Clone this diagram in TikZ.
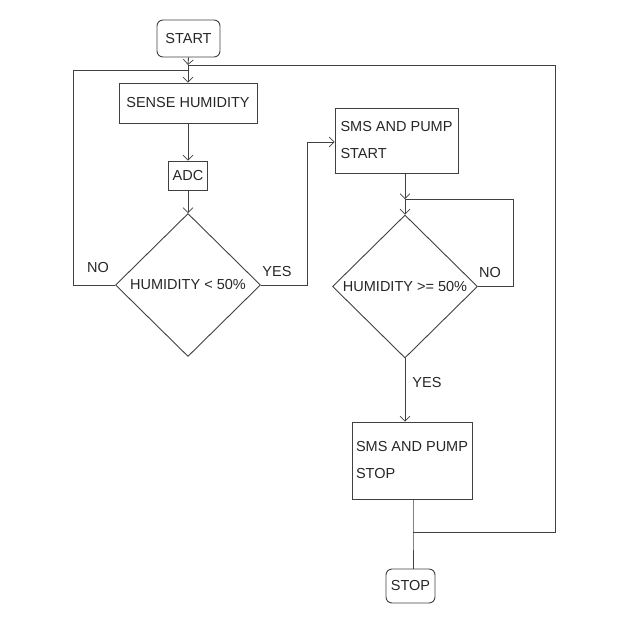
\documentclass[tikz,border=0pt]{standalone}
\usepackage{fontspec}
\setmainfont{Liberation Sans}
\usetikzlibrary{arrows.meta,shapes.geometric}
\begin{document}
\begin{tikzpicture}[x=1pt,y=-1pt,
  font=\fontsize{14.5}{27}\selectfont,
  every node/.style={text=black!85},
  line/.style={draw=black!75,line width=0.9pt},
  arr/.style={line,-{Straight Barb[length=5pt,width=10pt,line width=0.7pt]}},
  box/.style={line,rectangle,inner sep=0pt},
  term/.style={line,rectangle,rounded corners=6pt,inner sep=0pt},
  dec/.style={line,diamond,inner sep=0pt,minimum width=145pt,minimum height=143pt},
  lbl/.style={inner sep=0pt}]
\useasboundingbox (0,0) rectangle (627,641);
% nodes
\node[term,minimum width=63pt,minimum height=37pt] (start) at (188.5,38.5) {START};
\node[box,minimum width=138pt,minimum height=40pt] (sense) at (188,103) {SENSE HUMIDITY};
\node[box,minimum width=39pt,minimum height=29pt] (adc) at (188,175.5) {ADC};
\node[dec] (d1) at (188,285) {HUMIDITY < 50\%};
\node[box,minimum width=123pt,minimum height=65pt,align=left] (sms1) at (396.5,140.5) {SMS AND PUMP\\START};
\node[dec] (d2) at (405,286.5) {HUMIDITY >= 50\%};
\node[box,minimum width=120pt,minimum height=77pt,align=left] (sms2) at (412,460.5) {SMS AND PUMP\\STOP};
\node[term,minimum width=49pt,minimum height=34pt] (stop) at (410.5,586) {STOP};
% labels
\node[lbl] (no1) at (98,268) {NO};
\node[lbl] (yes1) at (277,272) {YES};
\node[lbl] (no2) at (490,273) {NO};
\node[lbl] (yes2) at (427,383) {YES};
% junctions
\coordinate (j1) at (188,65);
\coordinate (j1b) at (188,70);
\coordinate (j2) at (405,199);
\coordinate (j3) at (413,532);
% connectors
\draw[arr] (start.south) -- (j1);
\draw[arr] (j1) -- (sense.north);
\draw[arr] (sense.south) -- (adc.north);
\draw[arr] (adc.south) -- (d1.north);
\draw[line] (d1.west) -- (73,285) -- (73,70) -- (j1b);
\draw[arr] (d1.east) -- (307,285) -- (307,142) -- (sms1.west |- 0,142);
\draw[arr] (sms1.south -| j2) -- (j2);
\draw[arr] (j2) -- (d2.north);
\draw[line] (d2.east) -- (513,286.5) -- (513,199) -- (j2);
\draw[arr] (d2.south) -- (d2.south |- sms2.north);
\draw[line] (sms2.south -| j3) -- (j3) -- (stop.north -| j3);
\draw[line] (j3) -- (555,532) -- (555,65) -- (j1);
\end{tikzpicture}
\end{document}
